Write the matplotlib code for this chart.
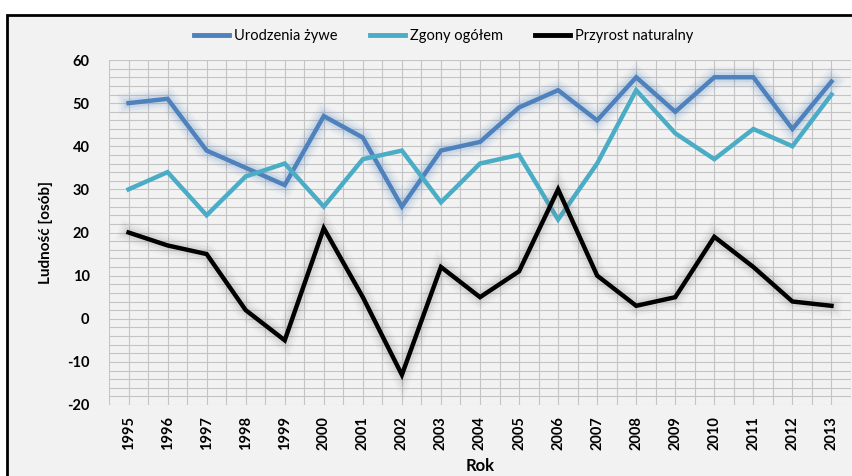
import matplotlib
matplotlib.use('Agg')
import matplotlib.pyplot as plt
import matplotlib.patheffects as pe
from matplotlib.patches import Rectangle
import numpy as np

years = [str(y) for y in range(1995, 2014)]
births = [50, 51, 39, 35, 31, 47, 42, 26, 39, 41, 49, 53, 46, 56, 48, 56, 56, 44, 55]
deaths = [30, 34, 24, 33, 36, 26, 37, 39, 27, 36, 38, 23, 36, 53, 43, 37, 44, 40, 52]
growth = [20, 17, 15, 2, -5, 21, 5, -13, 12, 5, 11, 30, 10, 3, 5, 19, 12, 4, 3]

series_names = ['Urodzenia żywe', 'Zgony ogółem', 'Przyrost naturalny']
colors = ['#4F81BD', '#4BACC6', '#000000']
glow_colors = ['#4F81BD', '#4BACC6', '#808080']

plt.rcParams['font.family'] = ['Lato', 'DejaVu Sans']
plt.rcParams['axes.unicode_minus'] = False

fig = plt.figure(figsize=(8.53, 4.76), dpi=100)
fig.patch.set_facecolor('white')
fig.add_artist(Rectangle((7 / 853, -0.05), 1.1, 1 - 15 / 476 + 0.05,
                         transform=fig.transFigure, facecolor='#F2F2F2',
                         edgecolor='black', linewidth=2, zorder=0))

ax = fig.add_axes([109 / 853, 1 - 405 / 476, (851 - 109) / 853, (405 - 60) / 476])
ax.set_facecolor('#F2F2F2')

x = np.arange(len(years))


def glow(c):
    return [pe.Stroke(linewidth=15, foreground=c, alpha=0.05),
            pe.Stroke(linewidth=11, foreground=c, alpha=0.08),
            pe.Stroke(linewidth=7, foreground=c, alpha=0.12),
            pe.Normal()]


lines = []
for vals, name, c, g in zip([births, deaths, growth], series_names, colors, glow_colors):
    ln, = ax.plot(x, vals, color=c, linewidth=3.2, label=name, zorder=3,
                  solid_joinstyle='miter')
    if name != 'Zgony ogółem':
        ln.set_path_effects(glow(g))
    lines.append(ln)

ax.set_xlim(-0.5, len(years) - 0.5)
ax.set_ylim(-20, 60)
ax.set_yticks(np.arange(-20, 61, 10))
ax.set_yticks(np.arange(-20, 61, 2), minor=True)
ax.set_xticks(x)
ax.set_xticks(np.arange(-0.5, len(years), 0.5), minor=True)
ax.set_xticklabels(years, rotation=90, fontsize=10.5, fontweight='bold')
for lab in ax.get_yticklabels():
    lab.set_fontsize(10.5)
    lab.set_fontweight('bold')
ax.tick_params(axis='both', which='both', length=0)
ax.tick_params(axis='y', pad=14)
ax.tick_params(axis='x', pad=8)
ax.grid(True, which='both', color='#C4C4C4', linewidth=0.8, zorder=0)
ax.set_axisbelow(True)
for s in ax.spines.values():
    s.set_visible(False)

ax.set_ylabel('Ludność [osób]', fontsize=11, fontweight='bold', labelpad=10)
ax.set_xlabel('Rok', fontsize=12, fontweight='bold', labelpad=6)

leg = fig.legend(handles=lines, loc='center', bbox_to_anchor=(444 / 853, 1 - 36 / 476),
                 ncol=3, frameon=False, fontsize=10.5, handlelength=2.4,
                 handletextpad=0.35, columnspacing=2.2)
for h in leg.legend_handles:
    h.set_path_effects([])
    h.set_linewidth(3.5)

fig.savefig('out.png', dpi=100, facecolor=fig.get_facecolor())
